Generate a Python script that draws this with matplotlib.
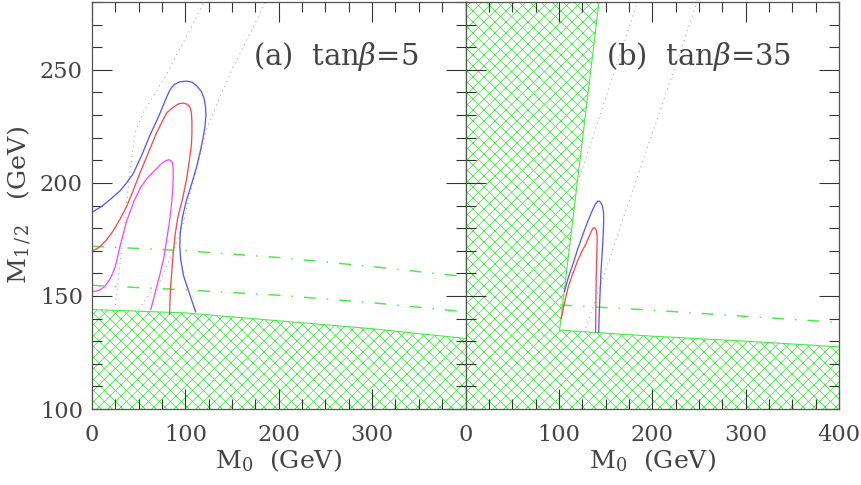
import numpy as np
import matplotlib
matplotlib.use("Agg")
import matplotlib.pyplot as plt
from matplotlib.ticker import MultipleLocator

# ---- panel (a): tan(beta) = 5 ----
a_blue_x = [0, 10, 19, 30, 37, 44, 53, 62, 72, 80, 84, 88, 94, 101, 107, 112, 117, 120, 121.5,
            122, 121, 119, 116, 112, 107, 101, 97, 94.5, 94, 95, 98, 102, 106, 111]
a_blue_y = [187, 189.5, 192.5, 196.5, 200, 204, 212, 221, 230, 238, 241.5, 243.5, 244.7, 245,
            244.6, 243, 240.5, 237.5, 234, 230, 225, 220, 214, 207, 200, 192, 185, 178, 172,
            166, 159, 154, 149, 143]
a_red_x = [0, 5, 9, 16, 23, 30, 37, 44, 51, 60, 69, 75, 80, 87, 93, 98, 102, 105, 106.5, 107,
           107, 106.5, 104, 101, 97, 92, 89, 87, 85.5, 84, 83]
a_red_y = [170, 170.8, 172, 175, 179, 184, 189.5, 196.5, 204, 213, 222, 227, 231, 233.5, 235,
           235.3, 234.8, 233.5, 231, 227, 222, 217, 209, 201, 193, 185, 177, 169, 161, 153, 142]
a_mag_x = [0, 5, 9, 13, 16, 20, 25, 30, 37, 45, 52, 59, 66, 73, 78, 82, 84, 86, 87, 87, 86.5,
           85, 83, 80, 77, 73, 68, 63]
a_mag_y = [152, 152.2, 152.8, 154, 155.5, 158, 163, 172, 183, 192, 198, 202, 205, 208, 209.6,
           210.2, 210, 209, 206.5, 202, 197, 190, 183, 175, 167, 160, 152, 144]
a_dot1_x = [25, 27, 30, 34, 40, 46, 56, 68, 80, 95, 108, 121]
a_dot1_y = [146, 153, 164, 178, 203, 222, 232, 240, 248, 260, 270, 281]
a_dot2_x = [50, 55, 62, 68, 73, 80, 88, 97, 105, 115, 123, 137, 151, 168, 187]
a_dot2_y = [144, 147, 151, 153, 156, 163, 171, 181, 195, 211, 224, 238, 251, 265, 281]
a_dd1_x = [0, 100, 200, 300, 400]
a_dd1_y = [172, 170, 167, 163, 158.5]
a_dd2_x = [0, 100, 200, 300, 400]
a_dd2_y = [154.7, 152.7, 150.3, 147, 143]
a_excl_x = [0, 100, 200, 300, 400]
a_excl_y = [144, 142.5, 139, 135.5, 131.2]

# ---- panel (b): tan(beta) = 35 ----
b_blue_x = [106, 110, 115, 120, 126, 131, 136, 139, 141.5, 143, 145, 146.8, 147.8, 148, 147.6,
            146.5, 145, 144, 143.2, 142.6]
b_blue_y = [152, 158, 164, 170.5, 177.5, 183, 188, 190.5, 191.8, 192, 191.2, 189.5, 187, 184,
            178, 170, 160, 150, 142, 134]
b_red_x = [102.6, 106, 110, 115, 120, 125, 129, 133, 136.4, 138.5, 140, 140.8, 141, 140.6,
           140, 139.6, 139.3]
b_red_y = [140, 147, 154, 160, 165.5, 170, 173, 177, 180, 180.2, 179.2, 177.5, 175, 168, 158,
           146, 134]
b_dot1_x = [122, 185]
b_dot1_y = [202.5, 281]
b_dot2_x = [129, 249]
b_dot2_y = [136, 281]
b_dd_x = [101.5, 200, 300, 400]
b_dd_y = [146, 143.7, 141, 138.3]
b_excl_top_x = [143, 100.7]          # slanted edge, top to kink
b_excl_top_y = [280, 134.9]
b_excl_bot_x = [100.7, 200, 300, 400]
b_excl_bot_y = [134.9, 132.2, 130, 127.5]

titles = ["(a)  tan$\\beta$=5", "(b)  tan$\\beta$=35"]

GREEN = "#44ee44"
BLUE = "#5555ff"
RED = "#ff4444"
MAG = "#ff44ff"
DOT = "#aaaaaa"
TXT = "#444444"
DASHDOT = (0, (6.5, 6, 0.8, 6))
DOTTED = (0, (0.6, 2.2))
HATCH = "xxxx"

plt.rcParams["font.family"] = ["DejaVu Serif"]
plt.rcParams["mathtext.fontset"] = "dejavuserif"
plt.rcParams["lines.scale_dashes"] = False
plt.rcParams["hatch.linewidth"] = 0.45

DPI = 132
fig = plt.figure(figsize=(861 / DPI, 485 / DPI), dpi=DPI)
axa = fig.add_axes([92 / 861, 1 - 409 / 485, 373.5 / 861, 407 / 485])
axb = fig.add_axes([465.5 / 861, 1 - 409 / 485, 373.5 / 861, 407 / 485])

for ax in (axa, axb):
    ax.set_xlim(0, 400)
    ax.set_ylim(100, 280)
    ax.xaxis.set_major_locator(MultipleLocator(100))
    ax.xaxis.set_minor_locator(MultipleLocator(25))
    ax.yaxis.set_major_locator(MultipleLocator(50))
    ax.yaxis.set_minor_locator(MultipleLocator(10))
    ax.tick_params(which="both", direction="in", top=True, right=True,
                   width=0.6, color="#333333", labelcolor=TXT, labelsize=12.3)
    ax.tick_params(which="major", length=11)
    ax.tick_params(which="minor", length=5.5)
    ax.tick_params(axis="x", pad=8)
    ax.tick_params(axis="y", pad=5)
    for s in ax.spines.values():
        s.set_color("#555555")
        s.set_linewidth(0.7)
    ax.set_xlabel("M$_0$  (GeV)", color=TXT, fontsize=13.8, labelpad=1)

# panel (a)
axa.fill_between(a_excl_x, 100, a_excl_y, facecolor="none", edgecolor=GREEN,
                 hatch=HATCH, linewidth=0)
axa.plot(a_excl_x, a_excl_y, color=GREEN, lw=0.6)
axa.plot(a_dd1_x, a_dd1_y, color=GREEN, lw=0.8, ls=DASHDOT)
axa.plot(a_dd2_x, a_dd2_y, color=GREEN, lw=0.8, ls=DASHDOT)
axa.plot(a_dot1_x, a_dot1_y, color=DOT, lw=0.6, ls=DOTTED)
axa.plot(a_dot2_x, a_dot2_y, color=DOT, lw=0.6, ls=DOTTED)
axa.plot(a_blue_x, a_blue_y, color=BLUE, lw=0.7)
axa.plot(a_red_x, a_red_y, color=RED, lw=0.7)
axa.plot(a_mag_x, a_mag_y, color=MAG, lw=0.7)
axa.set_xticks([0, 100, 200, 300])
axa.set_ylabel("M$_{1\\,/\\,2}$   (GeV)", color=TXT, fontsize=13.8, labelpad=3)
axa.text(172, 256, titles[0], color=TXT, fontsize=15.8, va="center", ha="left")

# panel (b)
ex_x = [0] + b_excl_top_x + b_excl_bot_x[1:] + [400, 0]
ex_y = [280] + b_excl_top_y + b_excl_bot_y[1:] + [100, 100]
axb.fill(ex_x, ex_y, facecolor="none", edgecolor=GREEN, hatch=HATCH, linewidth=0)
axb.plot(b_excl_top_x, b_excl_top_y, color=GREEN, lw=0.6)
axb.plot(b_excl_bot_x, b_excl_bot_y, color=GREEN, lw=0.6)
axb.plot(b_dd_x, b_dd_y, color=GREEN, lw=0.8, ls=DASHDOT)
axb.plot(b_dot1_x, b_dot1_y, color=DOT, lw=0.6, ls=DOTTED)
axb.plot(b_dot2_x, b_dot2_y, color=DOT, lw=0.6, ls=DOTTED)
axb.plot(b_blue_x, b_blue_y, color=BLUE, lw=0.7)
axb.plot(b_red_x, b_red_y, color=RED, lw=0.7)
axb.tick_params(axis="y", labelleft=False)
axb.set_xticks([0, 100, 200, 300, 400])
axb.text(151, 256, titles[1], color=TXT, fontsize=15.8, va="center", ha="left")

fig.savefig("out.png", dpi=DPI)
